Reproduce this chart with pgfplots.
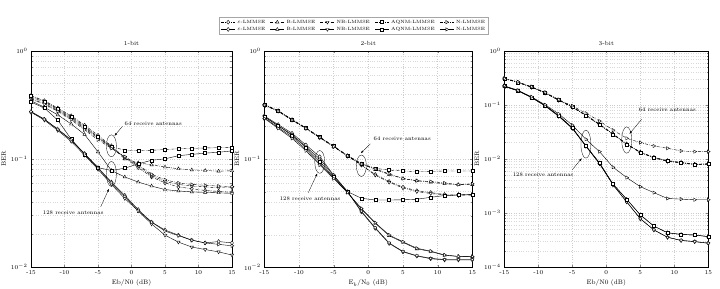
\documentclass[border=0pt]{standalone}
\usepackage{pgfplots}
\usepackage{pgfplotstable}
\pgfplotsset{compat=1.18}
\usetikzlibrary{arrows.meta}

\pgfplotstableread{
x    e64    b64    nb64   a64    n64    e128   b128   nb128  a128   n128
-15  0.385  0.370  0.360  0.380  0.355  0.272  0.345  0.270  0.335  0.274
-13  0.345  0.335  0.325  0.340  0.320  0.232  0.300  0.228  0.295  0.233
-11  0.295  0.285  0.280  0.290  0.275  0.187  0.255  0.183  0.228  0.188
-9   0.250  0.240  0.235  0.245  0.230  0.149  0.210  0.145  0.152  0.150
-7   0.205  0.195  0.190  0.200  0.185  0.112  0.168  0.108  0.110  0.111
-5   0.165  0.158  0.155  0.160  0.150  0.083  0.116  0.080  0.083  0.082
-3   0.132  0.128  0.127  0.130  0.125  0.061  0.078  0.058  0.078  0.060
-1   0.102  0.100  0.103  0.120  0.105  0.046  0.068  0.043  0.082  0.045
1    0.083  0.092  0.086  0.119  0.088  0.034  0.061  0.033  0.090  0.033
3    0.068  0.088  0.070  0.120  0.072  0.026  0.056  0.025  0.097  0.026
5    0.060  0.084  0.062  0.122  0.064  0.022  0.052  0.0197 0.100  0.0215
7    0.055  0.081  0.058  0.124  0.060  0.0197 0.0505 0.017  0.107  0.0195
9    0.053  0.079  0.056  0.125  0.058  0.0177 0.0495 0.0153 0.110  0.0177
11   0.051  0.078  0.055  0.126  0.057  0.0167 0.049  0.0145 0.113  0.0167
13   0.050  0.077  0.054  0.127  0.056  0.0172 0.0485 0.0138 0.115  0.0162
15   0.049  0.0775 0.054  0.128  0.0555 0.0167 0.048  0.0129 0.1185 0.0157
}\tblA

\pgfplotstableread{
x    e64    b64    nb64   a64    n64    e128   b128   nb128  a128   n128
-15  0.318  0.316  0.314  0.320  0.315  0.250  0.240  0.246  0.246  0.237
-13  0.279  0.277  0.276  0.280  0.277  0.208  0.196  0.203  0.203  0.192
-11  0.231  0.229  0.228  0.232  0.229  0.173  0.160  0.168  0.165  0.155
-9   0.193  0.192  0.191  0.194  0.192  0.135  0.123  0.130  0.128  0.119
-7   0.159  0.158  0.157  0.160  0.158  0.105  0.091  0.100  0.095  0.088
-5   0.131  0.130  0.130  0.132  0.130  0.071  0.067  0.070  0.068  0.066
-3   0.107  0.107  0.106  0.108  0.107  0.050  0.049  0.050  0.050  0.049
-1   0.088  0.090  0.088  0.091  0.090  0.0325 0.0345 0.033  0.0434 0.035
1    0.072  0.080  0.071  0.082  0.081  0.0229 0.0255 0.0232 0.0418 0.0258
3    0.062  0.072  0.061  0.079  0.073  0.0166 0.0196 0.0168 0.0418 0.0199
5    0.055  0.066  0.054  0.0775 0.066  0.0139 0.017  0.014  0.042  0.0172
7    0.051  0.063  0.050  0.0765 0.063  0.0127 0.0148 0.0128 0.0425 0.015
9    0.049  0.061  0.048  0.077  0.062  0.012  0.014  0.0121 0.0443 0.0141
11   0.047  0.059  0.0465 0.0775 0.060  0.0117 0.0129 0.0118 0.046  0.013
13   0.047  0.058  0.046  0.0775 0.058  0.0117 0.0126 0.0118 0.0465 0.0126
15   0.0468 0.058  0.046  0.0775 0.059  0.0117 0.0125 0.0118 0.047  0.0126
}\tblB

\pgfplotstableread{
x    e64    b64    nb64   a64    n64    e128     b128     nb128    a128     n128
-15  0.305  0.306  0.304  0.305  0.308  0.220    0.221    0.219    0.221    0.225
-13  0.260  0.261  0.259  0.260  0.265  0.182    0.183    0.181    0.183    0.185
-11  0.212  0.213  0.211  0.212  0.216  0.137    0.138    0.136    0.138    0.140
-9   0.166  0.167  0.165  0.166  0.170  0.096    0.097    0.095    0.097    0.100
-7   0.122  0.123  0.121  0.122  0.125  0.062    0.063    0.061    0.063    0.068
-5   0.091  0.092  0.090  0.091  0.095  0.037    0.0375   0.0365   0.0375   0.042
-3   0.064  0.065  0.063  0.064  0.070  0.0172   0.0174   0.0171   0.0174   0.023
-1   0.043  0.044  0.043  0.043  0.050  0.0082   0.0084   0.0081   0.0084   0.0136
1    0.0285 0.029  0.0283 0.0285 0.034  0.0033   0.0034   0.0033   0.0034   0.0070
3    0.0186 0.019  0.0185 0.0186 0.024  0.0016   0.00179  0.0016   0.00179  0.0045
5    0.0132 0.0134 0.0131 0.0132 0.020  0.00078  0.00092  0.00078  0.00092  0.00306
7    0.0105 0.0107 0.0104 0.0105 0.0173 0.000485 0.00057  0.000485 0.00057  0.00237
9    0.0091 0.0093 0.0090 0.0091 0.0157 0.000355 0.00043  0.000355 0.00043  0.00185
11   0.0085 0.0086 0.0084 0.0085 0.014  0.00031  0.0004   0.00031  0.0004   0.0018
13   0.0079 0.0080 0.0078 0.0079 0.0136 0.000295 0.00039  0.000295 0.00039  0.00175
15   0.0080 0.0081 0.0079 0.0080 0.0136 0.000275 0.000365 0.000275 0.000365 0.00175
}\tblC

\pgfplotsset{
  dd/.style={black, line width=0.4pt, dash pattern=on 3bp off 1.2bp on 0.6bp off 1.2bp},
  sl/.style={black, line width=0.4pt, solid},
  mE/.style={mark=diamond*, mark size=2.0bp, mark options={solid, fill=white}},
  mB/.style={mark=triangle*, mark size=1.9bp, mark options={solid, fill=white}},
  mNB/.style={mark=triangle*, mark size=1.9bp, mark options={solid, fill=white, rotate=180}},
  mA/.style={mark=square*, mark size=1.5bp, mark options={solid, fill=white}},
  mN/.style={mark=triangle*, mark size=1.9bp, mark options={solid, fill=white, rotate=-90}},
}

\newcommand{\allplots}[1]{%
  \addplot[dd,mE] table[x=x,y=e64]{#1};
  \addplot[dd,mB] table[x=x,y=b64]{#1};
  \addplot[dd,mNB] table[x=x,y=nb64]{#1};
  \addplot[dd,mA] table[x=x,y=a64]{#1};
  \addplot[dd,mN] table[x=x,y=n64]{#1};
  \addplot[sl,mE] table[x=x,y=e128]{#1};
  \addplot[sl,mB] table[x=x,y=b128]{#1};
  \addplot[sl,mNB] table[x=x,y=nb128]{#1};
  \addplot[sl,mA] table[x=x,y=a128]{#1};
  \addplot[sl,mN] table[x=x,y=n128]{#1};
}

\pgfplotsset{
  every axis/.append style={
    scale only axis, anchor=south west,
    xmin=-15, xmax=15,
    xtick={-15,-10,-5,0,5,10,15},
    xticklabels={-15,-10,-5,0,5,10,15},
    tick align=inside,
    grid=both,
    major grid style={gray!40, dotted, line width=0.3pt},
    minor grid style={gray!30, dotted, line width=0.3pt},
    tick label style={font=\fontsize{6}{7}\selectfont},
    label style={font=\fontsize{6.5}{8}\selectfont},
    title style={font=\fontsize{6}{7}\selectfont, yshift=-4bp},
    ylabel={BER},
    ylabel style={yshift=-2bp},
    xlabel style={yshift=2bp},
    axis line style={line width=0.4pt},
    major tick length=2.5bp, minor tick length=1.5bp,
  },
}

\begin{document}
\begin{tikzpicture}
\useasboundingbox (0bp,0bp) rectangle (720bp,289bp);

% ---------- 1-bit ----------
\begin{semilogyaxis}[at={(31bp,22bp)}, width=201bp, height=216.3bp,
  ymin=1e-2, ymax=1, title={1-bit}, xlabel={Eb/N0 (dB)}]
\allplots{\tblA}
\draw[line width=0.3pt] (axis cs:-3,0.132) ellipse [x radius=5bp, y radius=11bp];
\draw[line width=0.3pt] (axis cs:-3,0.0725) ellipse [x radius=5bp, y radius=12.5bp];
\node[anchor=west, font=\fontsize{5.5}{6}\selectfont, inner sep=1pt] at (axis cs:-1.2,0.21) {64 receive antennas};
\draw[line width=0.3pt, -{Latex[length=3bp,width=2bp]}] (axis cs:-1.35,0.2) -- (axis cs:-2.55,0.163);
\node[font=\fontsize{5.5}{6}\selectfont, inner sep=1pt] at (axis cs:-8.7,0.032) {128 receive antennas};
\draw[line width=0.3pt, -{Latex[length=3bp,width=2bp]}] (axis cs:-4.6,0.036) -- (axis cs:-3.35,0.053);
\end{semilogyaxis}

% ---------- 2-bit ----------
\begin{semilogyaxis}[at={(264.3bp,21.7bp)}, width=208bp, height=216.6bp,
  ymin=1e-2, ymax=1, title={2-bit}, xlabel={E$_b$/N$_0$ (dB)},
  legend columns=5,
  legend style={at={(0.431,1.115)}, anchor=center,
    font=\fontsize{4.6}{5.5}\selectfont, draw=gray!70, line width=0.4pt,
    inner xsep=1.5pt, inner ysep=0.5pt, row sep=-1.5pt,
    /tikz/every even column/.append style={column sep=3bp}},
  legend cell align=left,
  legend image code/.code={\draw[mark repeat=2,mark phase=2,#1] plot coordinates {(0bp,0bp)(7bp,0bp)(14bp,0bp)};}]
\allplots{\tblB}
\legend{$\varepsilon$-LMMSE, B-LMMSE, NB-LMMSE, AQNM-LMMSE, N-LMMSE,
        $\varepsilon$-LMMSE, B-LMMSE, NB-LMMSE, AQNM-LMMSE, N-LMMSE}
\draw[line width=0.3pt] (axis cs:-1,0.0867) ellipse [x radius=5bp, y radius=10.7bp];
\draw[line width=0.3pt] (axis cs:-7,0.094) ellipse [x radius=5bp, y radius=11.4bp];
\node[anchor=west, font=\fontsize{5.5}{6}\selectfont, inner sep=1pt] at (axis cs:0.6,0.155) {64 receive antennas};
\draw[line width=0.3pt, -{Latex[length=3bp,width=2bp]}] (axis cs:0.3,0.138) -- (axis cs:-1.1,0.113);
\node[font=\fontsize{5.5}{6}\selectfont, inner sep=1pt] at (axis cs:-8.4,0.0433) {128 receive antennas};
\draw[line width=0.3pt, -{Latex[length=3bp,width=2bp]}] (axis cs:-8.65,0.049) -- (axis cs:-7.35,0.0738);
\end{semilogyaxis}

% ---------- 3-bit ----------
\begin{semilogyaxis}[at={(504.3bp,22bp)}, width=204bp, height=216.3bp,
  ymin=1e-4, ymax=1, title={3-bit}, xlabel={Eb/N0 (dB)}]
\allplots{\tblC}
\draw[line width=0.3pt] (axis cs:3,0.0223) ellipse [x radius=5bp, y radius=13.2bp];
\draw[line width=0.3pt] (axis cs:-3,0.0187) ellipse [x radius=5bp, y radius=14bp];
\node[anchor=west, font=\fontsize{5.5}{6}\selectfont, inner sep=1pt] at (axis cs:4.6,0.0826) {64 receive antennas};
\draw[line width=0.3pt, -{Latex[length=3bp,width=2bp]}] (axis cs:5.2,0.054) -- (axis cs:3.4,0.029);
\node[font=\fontsize{5.5}{6}\selectfont, inner sep=1pt] at (axis cs:-9.3,0.005) {128 receive antennas};
\draw[line width=0.3pt, -{Latex[length=3bp,width=2bp]}] (axis cs:-5.0,0.0063) -- (axis cs:-3.6,0.0103);
\end{semilogyaxis}
\end{tikzpicture}
\end{document}
